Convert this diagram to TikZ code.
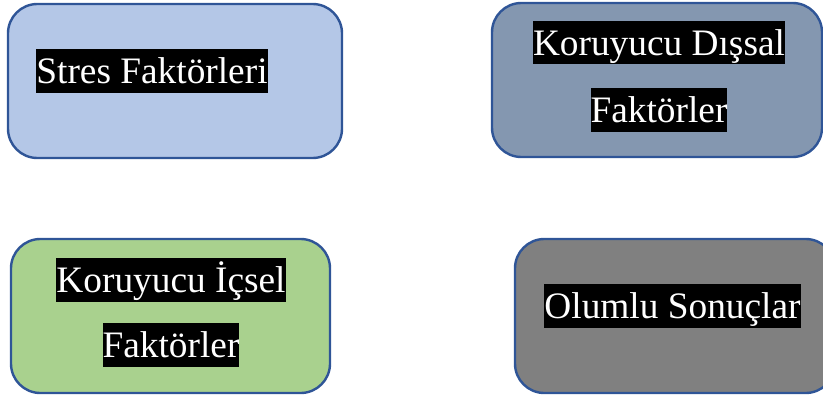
\documentclass[tikz,border=0pt]{standalone}
\usepackage{fontspec}
\setmainfont{Liberation Serif}
\usetikzlibrary{positioning}

\definecolor{edgeblue}{HTML}{2F5597}
\definecolor{stressfill}{HTML}{B4C7E7}
\definecolor{externfill}{HTML}{8497B0}
\definecolor{internfill}{HTML}{A9D18E}
\definecolor{outcomefill}{HTML}{808080}

\begin{document}
\begin{tikzpicture}[
        x=0.75pt, y=-0.75pt,
        box/.style={
            rectangle,
            draw=edgeblue,
            line width=1.8pt,
            rounded corners=22pt,
            minimum height=115.5pt
        },
        hl/.style={
            fill=black,
            text=white,
            inner sep=0pt,
            text height=25.8pt,
            text depth=7pt,
            font=\fontsize{28}{34}\selectfont
        }
    ]
    \useasboundingbox (0,0) rectangle (823,396);
    % Stress factors
    \node[box, fill=stressfill, minimum width=250.5pt] (stress) at (175,81) {};
    \node[hl] (stress_t) at (152,71) {Stres Faktörleri};
    % Protective external factors
    \node[box, fill=externfill, minimum width=247.5pt] (extern) at (657,80) {};
    \node[hl] (extern_t1) at (659,42.5) {Koruyucu Dışsal};
    \node[hl, below=17.25pt of extern_t1] (extern_t2) {Faktörler};
    % Protective internal factors
    \node[box, fill=internfill, minimum width=239.25pt] (intern) at (170.5,316) {};
    \node[hl] (intern_t1) at (171,280) {Koruyucu İçsel};
    \node[hl, below=15.75pt of intern_t1] (intern_t2) {Faktörler};
    % Positive outcomes
    \node[box, fill=outcomefill, minimum width=240pt] (outcome) at (675,316) {};
    \node[hl] (outcome_t) at (672.5,306) {Olumlu Sonuçlar};
\end{tikzpicture}
\end{document}
